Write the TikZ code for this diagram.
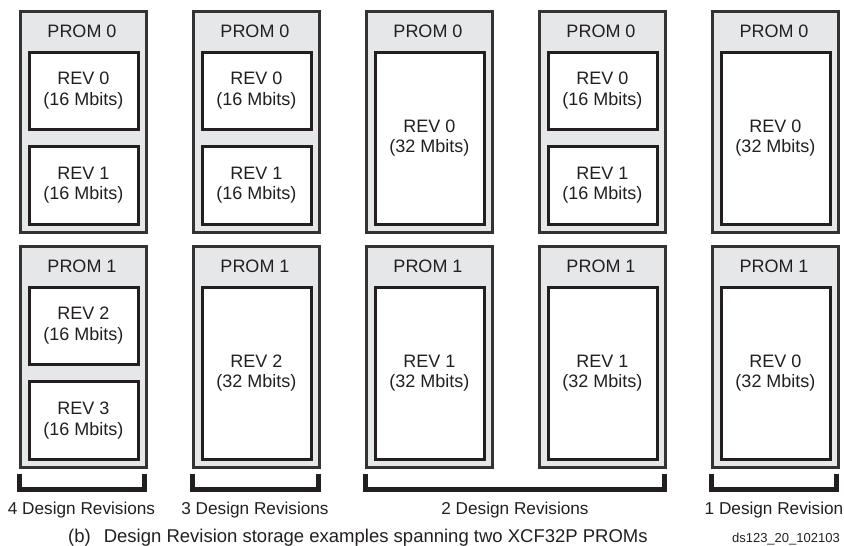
\documentclass[tikz,border=0pt]{standalone}
\usepackage{fontspec}
\setmainfont{Liberation Sans}
\definecolor{promfill}{HTML}{E6E7E8}
\definecolor{ink}{HTML}{231F20}
\definecolor{edge}{HTML}{333333}
\tikzset{
  promouter/.style={draw=edge, line width=2.5pt, fill=promfill, rectangle, inner sep=0pt,
    minimum width=126pt, minimum height=221pt, anchor=north west},
  revbox/.style={draw=ink, line width=3pt, fill=white, rectangle, inner sep=0pt,
    minimum width=109pt, anchor=north west, align=center,
    font=\fontsize{18}{20.5}\selectfont, text=ink},
  halfrev/.style={revbox, minimum height=77.25pt},
  fullrev/.style={revbox, minimum height=172pt},
  promlabel/.style={font=\fontsize{18}{20}\selectfont, text=ink, inner sep=0pt, anchor=base},
  bracket/.style={draw=ink, line width=5pt, line join=miter},
  revcount/.style={font=\fontsize{17.2}{20}\selectfont, text=ink, anchor=base, inner sep=0pt},
}
\begin{document}
\begin{tikzpicture}[x=1pt, y=-1pt]
\useasboundingbox (0,0) rectangle (844,546);

% ---------- Column 1 ----------
\node[promouter] (c1t) at (19,10) {};
\node[promlabel] (c1tl) at (82,37) {PROM 0};
\node[halfrev] (c1r0) at (27.5,50.5) {REV 0\\(16 Mbits)};
\node[halfrev] (c1r1) at (27.5,145.25) {REV 1\\(16 Mbits)};
\node[promouter] (c1b) at (19,245) {};
\node[promlabel] (c1bl) at (82,272) {PROM 1};
\node[halfrev] (c1r2) at (27.5,285.5) {REV 2\\(16 Mbits)};
\node[halfrev] (c1r3) at (27.5,380.25) {REV 3\\(16 Mbits)};

% ---------- Column 2 ----------
\node[promouter] (c2t) at (192,10) {};
\node[promlabel] (c2tl) at (255,37) {PROM 0};
\node[halfrev] (c2r0) at (200.5,50.5) {REV 0\\(16 Mbits)};
\node[halfrev] (c2r1) at (200.5,145.25) {REV 1\\(16 Mbits)};
\node[promouter] (c2b) at (192,245) {};
\node[promlabel] (c2bl) at (255,272) {PROM 1};
\node[fullrev] (c2r2) at (200.5,285.5) {REV 2\\(32 Mbits)};

% ---------- Column 3 ----------
\node[promouter] (c3t) at (365,10) {};
\node[promlabel] (c3tl) at (428,37) {PROM 0};
\node[fullrev] (c3r0) at (373.5,50.5) {REV 0\\(32 Mbits)};
\node[promouter] (c3b) at (365,245) {};
\node[promlabel] (c3bl) at (428,272) {PROM 1};
\node[fullrev] (c3r1) at (373.5,285.5) {REV 1\\(32 Mbits)};

% ---------- Column 4 ----------
\node[promouter] (c4t) at (538,10) {};
\node[promlabel] (c4tl) at (601,37) {PROM 0};
\node[halfrev] (c4r0) at (546.5,50.5) {REV 0\\(16 Mbits)};
\node[halfrev] (c4r1) at (546.5,145.25) {REV 1\\(16 Mbits)};
\node[promouter] (c4b) at (538,245) {};
\node[promlabel] (c4bl) at (601,272) {PROM 1};
\node[fullrev] (c4r2) at (546.5,285.5) {REV 1\\(32 Mbits)};

% ---------- Column 5 ----------
\node[promouter] (c5t) at (711,10) {};
\node[promlabel] (c5tl) at (774,37) {PROM 0};
\node[fullrev] (c5r0) at (719.5,50.5) {REV 0\\(32 Mbits)};
\node[promouter] (c5b) at (711,245) {};
\node[promlabel] (c5bl) at (774,272) {PROM 1};
\node[fullrev] (c5r1) at (719.5,285.5) {REV 0\\(32 Mbits)};

% ---------- Brackets ----------
\coordinate (b1l) at (19.5,474);  \coordinate (b1r) at (144.5,474);
\coordinate (b2l) at (192.5,474); \coordinate (b2r) at (318.5,474);
\coordinate (b3l) at (365.5,474); \coordinate (b3r) at (664.5,474);
\coordinate (b4l) at (711.5,474); \coordinate (b4r) at (836.5,474);
\draw[bracket] (b1l) -- ++(0,15.5) -| (b1r);
\draw[bracket] (b2l) -- ++(0,15.5) -| (b2r);
\draw[bracket] (b3l) -- ++(0,15.5) -| (b3r);
\draw[bracket] (b4l) -- ++(0,15.5) -| (b4r);

\node[revcount] (n4) at (81.5,514.5) {4 Design Revisions};
\node[revcount] (n3) at (255,514.5) {3 Design Revisions};
\node[revcount] (n2) at (515,514.5) {2 Design Revisions};
\node[revcount] (n1) at (774,514.5) {1 Design Revision};

% ---------- Caption ----------
\node[font=\fontsize{18.5}{22}\selectfont, text=ink, inner sep=0pt, anchor=base west] (cap)
  at (68,542) {(b)\hspace{13pt}Design Revision storage examples spanning two XCF32P PROMs};
\node[font=\fontsize{13}{15}\selectfont, text=ink, inner sep=0pt, anchor=base east] (fig)
  at (840,542) {ds123\_20\_102103};
\end{tikzpicture}
\end{document}
